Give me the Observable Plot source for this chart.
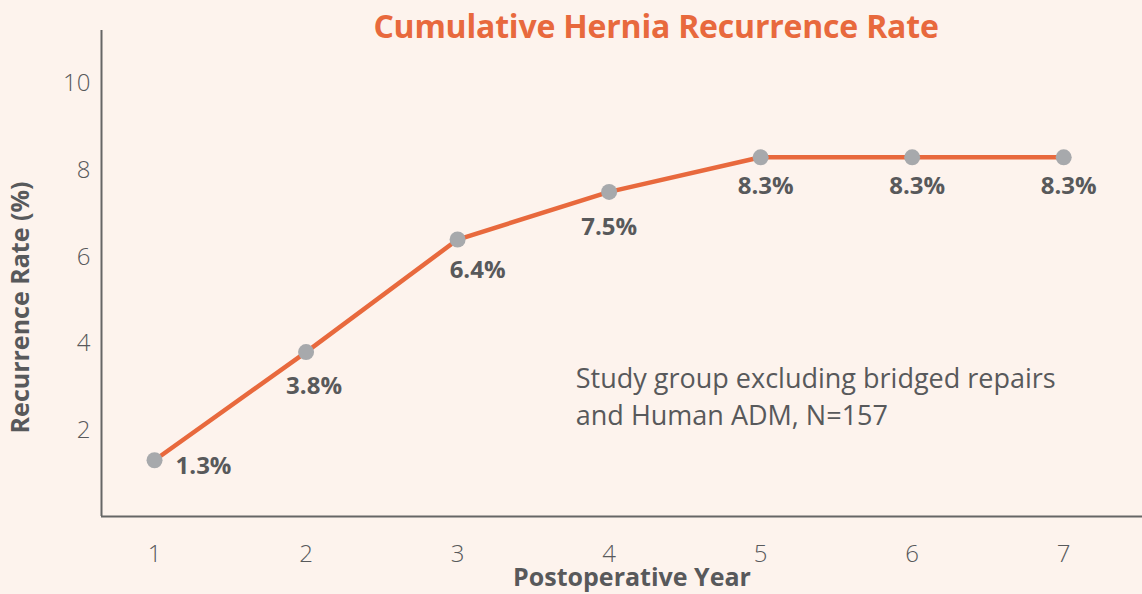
<!DOCTYPE html>
<html>
<head>
<meta charset="utf-8">
<script src="https://cdn.jsdelivr.net/npm/d3@7"></script>
<script src="https://cdn.jsdelivr.net/npm/@observablehq/plot@0.6"></script>
<style>
  html, body { margin: 0; padding: 0; background: #fdf3ed; }
  #wrap { position: relative; width: 1142px; height: 594px; overflow: hidden; }
  #title { position: absolute; left: 0; width: 1142px; top: 4px; padding-left: 170px; box-sizing: border-box;
    text-align: center; font-family: "Open Sans", sans-serif; font-weight: 700; font-size: 32px; color: #e8693d;
    letter-spacing: -0.2px; z-index: 2; }
  svg { position: absolute; left: 0; top: 0; }
  g[aria-label="y-axis tick label"], g[aria-label="x-axis tick label"] { font-weight: 300; }
</style>
</head>
<body>
<div id="wrap">
  <div id="title">Cumulative Hernia Recurrence Rate</div>
</div>
<script>
const years = [1, 2, 3, 4, 5, 6, 7];
const rates = [1.3, 3.8, 6.4, 7.5, 8.3, 8.3, 8.3];
const rateLabels = ["1.3%", "3.8%", "6.4%", "7.5%", "8.3%", "8.3%", "8.3%"];
const xTicks = [1, 2, 3, 4, 5, 6, 7];
const yTicks = [2, 4, 6, 8, 10];
const xDomain = [0.65, 7.52];
const yDomain = [0, 11.23];
const noteLines = ["Study group excluding bridged repairs", "and Human ADM, N=157"];
const notePos = [{x: 3.78, y: 2.82}];

const data = years.map((year, i) => ({year, rate: rates[i], label: rateLabels[i]}));
const textColor = "#58595b";
const fontFamily = "'Open Sans', sans-serif";

// label offsets (styling only) per group of years
const labelGroups = [
  {test: y => y === 1, dx: 49, dy: 6},
  {test: y => y === 2, dx: 8, dy: 34},
  {test: y => y === 3, dx: 20, dy: 31},
  {test: y => y === 4, dx: 0, dy: 35},
  {test: y => y >= 5, dx: 5, dy: 29}
];

const chart = Plot.plot({
  width: 1142,
  height: 594,
  marginTop: 30,
  marginBottom: 78,
  marginLeft: 101,
  marginRight: 0,
  style: {background: "transparent", color: textColor, fontFamily, fontSize: "24px"},
  x: {domain: xDomain},
  y: {domain: yDomain},
  marks: [
    Plot.axisY(yTicks, {tickSize: 0, tickPadding: 11, label: null, fontSize: 24, fontWeight: 300, fill: textColor}),
    Plot.axisX(xTicks, {tickSize: 0, tickPadding: 28, label: null, tickFormat: "d", fontSize: 24, fontWeight: 300, fill: textColor}),
    Plot.ruleX([xDomain[0]], {stroke: "#666", strokeWidth: 2}),
    Plot.ruleY([0], {stroke: "#666", strokeWidth: 2}),
    Plot.line(data, {x: "year", y: "rate", stroke: "#e8693d", strokeWidth: 4.5}),
    Plot.dot(data, {x: "year", y: "rate", r: 8, fill: "#a7a9ac"}),
    ...labelGroups.map(g => Plot.text(data.filter(d => g.test(d.year)), {x: "year", y: "rate", text: "label",
      dx: g.dx, dy: g.dy, fontSize: 24, fontWeight: 700, fill: textColor})),
    Plot.text(notePos, {x: "x", y: "y", text: () => noteLines.join("\n"), textAnchor: "start", lineHeight: 1.37,
      fontSize: 27, fill: textColor}),
    Plot.text(["Postoperative Year"], {frameAnchor: "bottom", dy: 69, dx: 10, fontSize: 25, fontWeight: 700, fill: textColor}),
    Plot.text(["Recurrence Rate (%)"], {frameAnchor: "left", textAnchor: "middle", rotate: -90, dx: -81, dy: 34,
      fontSize: 25, fontWeight: 700, fill: textColor})
  ]
});
document.getElementById("wrap").appendChild(chart);
</script>
</body>
</html>
